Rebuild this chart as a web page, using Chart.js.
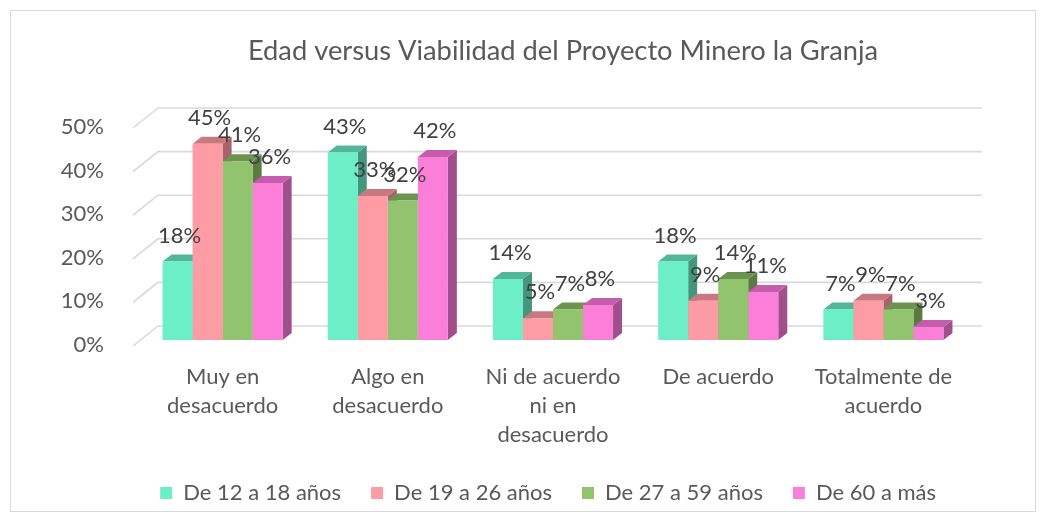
<!DOCTYPE html>
<html>
<head>
<meta charset="utf-8">
<script src="https://cdn.jsdelivr.net/npm/chart.js@4/dist/chart.umd.min.js"></script>
<style>
  body { margin: 0; background: #fff; }
</style>
</head>
<body>
<canvas id="barPlot" width="1046" height="522"></canvas>
<script>
const title = 'Edad versus Viabilidad del Proyecto Minero la Granja'
const categories = [
    ['Muy en', 'desacuerdo'],
    ['Algo en', 'desacuerdo'],
    ['Ni de acuerdo', 'ni en', 'desacuerdo'],
    'De acuerdo',
    ['Totalmente de', 'acuerdo']
]
const seriesNames = ['De 12 a 18 años', 'De 19 a 26 años', 'De 27 a 59 años', 'De 60 a más']
const age12to18 = [18, 43, 14, 18, 7]
const age19to26 = [45, 33, 5, 9, 9]
const age27to59 = [41, 32, 7, 14, 7]
const age60plus = [36, 42, 8, 11, 3]
const yTicks = [0, 10, 20, 30, 40, 50]

// front, top and side colours of each series
const fronts = ['#6cefc7', '#fd9ca4', '#92c46f', '#fb7fd9']
const tops = ['#52b797', '#c8797f', '#6d9350', '#c55dac']
const sides = ['#44977c', '#a6646a', '#5a7c42', '#a04f8c']

const font = 'Lato'
const textColor = '#595959'
const depthX = 9
const depthY = -7

// 3d look: back wall grid, bar tops and sides, labels
const look3d = {
    id: 'look3d',
    beforeDatasetsDraw (chart) {
        const ctx = chart.ctx
        const area = chart.chartArea
        const y = chart.scales.y
        ctx.save()
        ctx.strokeStyle = '#d9d9d9'
        ctx.lineWidth = 1.6
        yTicks.forEach((t) => {
            const py = y.getPixelForValue(t)
            ctx.beginPath()
            ctx.moveTo(area.left - 7, py + 6)
            ctx.lineTo(area.left + 18, py - 14)
            ctx.lineTo(area.right + 16, py - 14)
            ctx.stroke()
        })
        // sides and tops, left to right so the next front hides them
        for (let i = 0; i < categories.length; i++) {
            chart.data.datasets.forEach((ds, d) => {
                const bar = chart.getDatasetMeta(d).data[i]
                const p = bar.getProps(['x', 'y', 'base', 'width'], true)
                const xl = p.x - p.width / 2
                const xr = p.x + p.width / 2
                ctx.fillStyle = sides[d]
                ctx.beginPath()
                ctx.moveTo(xr, p.y)
                ctx.lineTo(xr + depthX, p.y + depthY)
                ctx.lineTo(xr + depthX, p.base + depthY)
                ctx.lineTo(xr, p.base)
                ctx.closePath()
                ctx.fill()
                ctx.fillStyle = tops[d]
                ctx.beginPath()
                ctx.moveTo(xl, p.y)
                ctx.lineTo(xr, p.y)
                ctx.lineTo(xr + depthX, p.y + depthY)
                ctx.lineTo(xl + depthX, p.y + depthY)
                ctx.closePath()
                ctx.fill()
            })
        }
        ctx.restore()
    },
    afterDatasetsDraw (chart) {
        const ctx = chart.ctx
        ctx.save()
        ctx.font = '22px ' + font
        ctx.fillStyle = '#404040'
        ctx.textAlign = 'center'
        ctx.textBaseline = 'middle'
        chart.data.datasets.forEach((ds, d) => {
            chart.getDatasetMeta(d).data.forEach((bar, i) => {
                const p = bar.getProps(['x', 'y'], true)
                ctx.fillText(ds.data[i] + '%', p.x + 2, p.y - 26)
            })
        })
        ctx.restore()
    },
    afterDraw (chart) {
        const ctx = chart.ctx
        ctx.save()
        ctx.strokeStyle = '#d9d9d9'
        ctx.lineWidth = 1
        ctx.strokeRect(10.5, 10.5, 1025, 501)
        ctx.font = '27.3px ' + font
        ctx.fillStyle = textColor
        ctx.textAlign = 'center'
        ctx.textBaseline = 'middle'
        ctx.fillText(title, 563, 51)
        ctx.restore()
    }
}

const allSeries = [age12to18, age19to26, age27to59, age60plus]

new Chart(document.getElementById('barPlot'), {
    type: 'bar',
    data: {
        labels: categories,
        datasets: allSeries.map((values, d) => ({
            label: seriesNames[d],
            data: values,
            backgroundColor: fronts[d],
            borderWidth: 0,
            barPercentage: 1,
            categoryPercentage: 0.727
        }))
    },
    options: {
        responsive: false,
        animation: false,
        layout: {
            padding: { top: 122, left: 60, right: 80, bottom: 8 }
        },
        scales: {
            x: {
                grid: { display: false },
                border: { display: false },
                ticks: {
                    color: textColor,
                    font: { family: font, size: 22, lineHeight: 1.32 },
                    padding: 14,
                    maxRotation: 0,
                    autoSkip: false
                },
                afterFit (scale) { scale.height = 112 }
            },
            y: {
                min: 0,
                max: 50,
                grid: { display: false },
                border: { display: false },
                ticks: {
                    stepSize: 10,
                    color: textColor,
                    font: { family: font, size: 22 },
                    padding: 28,
                    labelOffset: 5,
                    callback: (v) => v + '%'
                },
                afterFit (scale) { scale.width = 80 }
            }
        },
        plugins: {
            legend: {
                position: 'bottom',
                align: 'end',
                labels: {
                    color: textColor,
                    font: { family: font, size: 22 },
                    boxWidth: 12,
                    boxHeight: 12,
                    padding: 30
                }
            },
            tooltip: { enabled: false }
        }
    },
    plugins: [look3d]
})
</script>
</body>
</html>
